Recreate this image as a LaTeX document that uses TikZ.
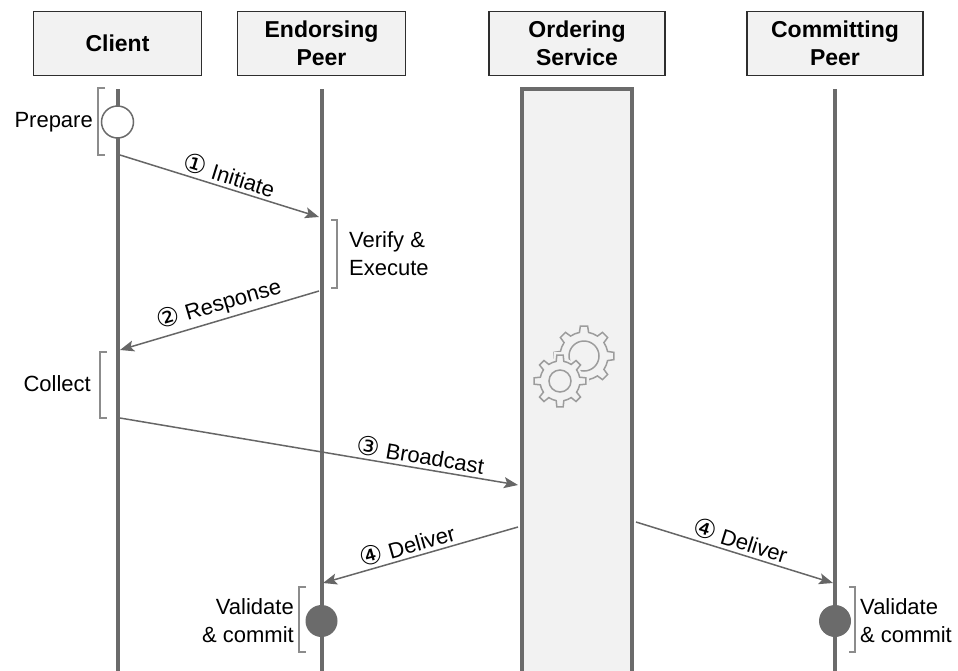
\documentclass[tikz,border=0pt]{standalone}
\usepackage{fontspec}
\setmainfont{Liberation Sans}
\newfontfamily\circfont{DejaVu Sans}
\usepackage{tikz}
\usetikzlibrary{calc,arrows.meta,positioning}

\definecolor{boxline}{HTML}{2E2E2E}
\definecolor{boxfill}{HTML}{F2F2F2}
\definecolor{lifeline}{HTML}{6B6B6B}
\definecolor{msgline}{HTML}{666666}
\definecolor{brkline}{HTML}{8C8C8C}
\definecolor{cogline}{HTML}{9C9C9C}

\newcommand{\stepno}[1]{{\circfont\fontsize{26}{28}\selectfont #1}}
\newcommand{\cogpath}[2]{(-11:#1) \foreach \a in {0,45,...,315}{ -- ({\a-11}:#1) -- ({\a-7}:#2) -- ({\a+7}:#2) -- ({\a+11}:#1) arc[start angle=\a+11, end angle=\a+34, radius=#1]} -- cycle}

\begin{document}
\begin{tikzpicture}[x=1pt, y=-1pt, node distance=34.5pt,
  actor/.style={draw=boxline, fill=boxfill, line width=1.5pt, minimum width=168pt, minimum height=64pt, align=center, inner sep=2pt, font=\fontsize{23}{28}\selectfont\bfseries},
  wide/.style={minimum width=176pt},
  life/.style={draw=lifeline, line width=4pt},
  bar/.style={draw=lifeline, fill=boxfill, line width=4pt},
  msg/.style={draw=msgline, line width=1.5pt, -{Stealth[length=14pt, width=11pt, inset=3pt]}},
  lbl/.style={font=\fontsize{22}{28}\selectfont, sloped, above=0pt, pos=#1},
  txt/.style={font=\fontsize{22}{28}\selectfont, inner sep=0pt},
  brk/.style={draw=brkline, line width=1.5pt},
  opendot/.style={circle, draw=lifeline, fill=white, line width=1.5pt, minimum size=32pt, inner sep=0pt},
  fulldot/.style={circle, fill=lifeline, minimum size=32pt, inner sep=0pt},
  cog/.style={draw=cogline, line width=1.5pt}]

  \useasboundingbox (0,0) rectangle (958,670);

  % header boxes
  \node[actor] (client) at (117.5,43.5) {Client};
  \node[actor, right=of client] (endorser) {Endorsing\\Peer};
  \node[actor, wide, right=82pt of endorser] (orderer) {Ordering\\Service};
  \node[actor, wide, right=80.5pt of orderer] (committer) {Committing\\Peer};

  % lifelines
  \coordinate (bottom) at (0,672);
  \draw[life] ($(client.south)+(0,13)$) -- (client.south |- bottom);
  \draw[life] ($(endorser.south)+(0,13)$) -- (endorser.south |- bottom);
  \draw[life] ($(committer.south)+(0,13)$) -- (committer.south |- bottom);
  \draw[bar] (522,89) rectangle (632,690);

  % gears
  \draw[cog, shift={(584,356)}] \cogpath{24pt}{30pt};
  \draw[cog] (584,356) circle[radius=15pt];
  \fill[boxfill, draw=boxfill, line width=6pt, shift={(560,381)}] \cogpath{20pt}{26pt};
  \draw[cog, shift={(560,381)}] \cogpath{20pt}{26pt};
  \draw[cog] (560,381) circle[radius=11pt];

  % prepare
  \node[opendot] (prep) at (client.south |- 0,122) {};
  \node[txt, anchor=east] (preptxt) at (93,122) {Prepare};
  \draw[brk] (105,88) -- (98,88) -- (98,155) -- (105,155);

  % messages
  \coordinate (initA) at (120,155);
  \coordinate (initB) at (319,217);
  \draw[msg] (initA) -- node[lbl=0.53] {\stepno{①} Initiate} (initB);

  \node[txt, anchor=west, align=left] (verify) at (349,254) {Verify \&\\Execute};
  \draw[brk] (331,220) -- (337,220) -- (337,288) -- (331,288);

  \coordinate (respA) at (319,291);
  \coordinate (respB) at (120,350);
  \draw[msg] (respA) -- node[lbl=0.48] {\stepno{②} Response} (respB);

  \node[txt, anchor=east] (collect) at (91,384) {Collect};
  \draw[brk] (107,352) -- (100,352) -- (100,418) -- (107,418);

  \coordinate (castA) at (120,418);
  \coordinate (castB) at (518,485);
  \draw[msg] (castA) -- node[lbl=0.75] {\stepno{③} Broadcast} (castB);

  \coordinate (delEA) at (518,527);
  \coordinate (delEB) at (323,583);
  \draw[msg] (delEA) -- node[lbl=0.55] {\stepno{④} Deliver} (delEB);

  % validate & commit
  \node[fulldot] (valE) at (endorser.south |- 0,621) {};
  \node[txt, anchor=east, align=right] (valEtxt) at (294,621) {Validate\\\& commit};
  \draw[brk] (306,587) -- (299,587) -- (299,652) -- (306,652);
  \node[fulldot] (valC) at (committer.south |- valE) {};
  \node[txt, anchor=west, align=left] (valCtxt) at (860,621) {Validate\\\& commit};
  \draw[brk] (849,587) -- (855,587) -- (855,652) -- (849,652);

  \coordinate (delCA) at (636,522);
  \coordinate (delCB) at ($(valC.center)+(-2,-38)$);
  \draw[msg] (delCA) -- node[lbl=0.51] {\stepno{④} Deliver} (delCB);
\end{tikzpicture}
\end{document}
